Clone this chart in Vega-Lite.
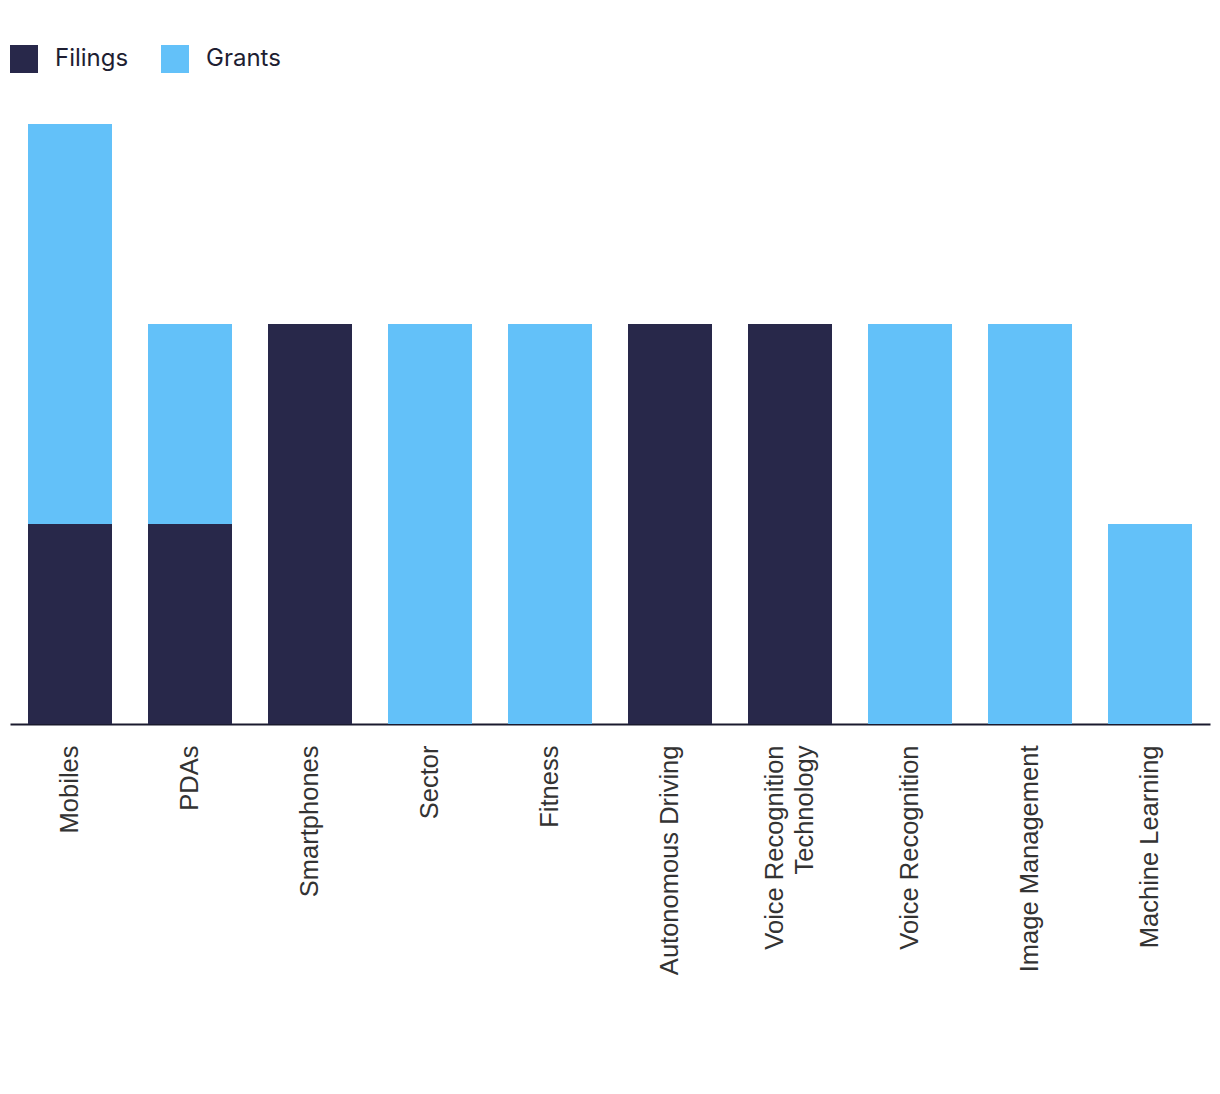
{
  "$schema": "https://vega.github.io/schema/vega-lite/v6.json",
  "width": 1200,
  "height": 600,
  "autosize": {"type": "none"},
  "padding": {"left": 10, "top": 124, "right": 10, "bottom": 370},
  "background": "white",
  "config": {"view": {"stroke": null}},
  "data": {
    "values": [
      {"category": "Mobiles", "type": "Filings", "count": 1},
      {"category": "Mobiles", "type": "Grants", "count": 2},
      {"category": "PDAs", "type": "Filings", "count": 1},
      {"category": "PDAs", "type": "Grants", "count": 1},
      {"category": "Smartphones", "type": "Filings", "count": 2},
      {"category": "Sector", "type": "Grants", "count": 2},
      {"category": "Fitness", "type": "Grants", "count": 2},
      {"category": "Autonomous Driving", "type": "Filings", "count": 2},
      {"category": "Voice Recognition Technology", "type": "Filings", "count": 2},
      {"category": "Voice Recognition", "type": "Grants", "count": 2},
      {"category": "Image Management", "type": "Grants", "count": 2},
      {"category": "Machine Learning", "type": "Grants", "count": 1}
    ]
  },
  "mark": {"type": "bar"},
  "encoding": {
    "x": {
      "field": "category",
      "type": "nominal",
      "sort": ["Mobiles", "PDAs", "Smartphones", "Sector", "Fitness", "Autonomous Driving", "Voice Recognition Technology", "Voice Recognition", "Image Management", "Machine Learning"],
      "scale": {"paddingInner": 0.3, "paddingOuter": 0.15},
      "axis": {
        "title": null,
        "labelAngle": -90,
        "ticks": false,
        "labelPadding": 21,
        "labelFont": "Liberation Sans",
        "labelFontSize": 25.5,
        "labelColor": "#333333",
        "labelLimit": 0,
        "labelLineHeight": 30,
        "labelOffset": {"condition": {"test": "datum.value == 'Voice Recognition Technology'", "value": -15}, "value": 0},
        "domainColor": "#1a1a2e",
        "domainWidth": 2,
        "labelExpr": "datum.value == 'Voice Recognition Technology' ? ['Voice Recognition', 'Technology'] : datum.value"
      }
    },
    "y": {
      "field": "count",
      "type": "quantitative",
      "aggregate": "sum",
      "scale": {"domain": [0, 3], "nice": false},
      "axis": null
    },
    "color": {
      "field": "type",
      "type": "nominal",
      "scale": {"domain": ["Filings", "Grants"], "range": ["#28284a", "#63c1f9"]},
      "legend": {
        "title": null,
        "orient": "none",
        "legendX": 0,
        "legendY": -79,
        "direction": "horizontal",
        "symbolType": "square",
        "symbolSize": 784,
        "symbolStrokeWidth": 0,
        "symbolOpacity": 1,
        "labelFont": "Inter",
        "labelFontSize": 24,
        "labelColor": "#1e1e32",
        "labelOffset": 17,
        "columnPadding": 32
      }
    },
    "order": {"field": "type", "sort": "ascending"}
  }
}
